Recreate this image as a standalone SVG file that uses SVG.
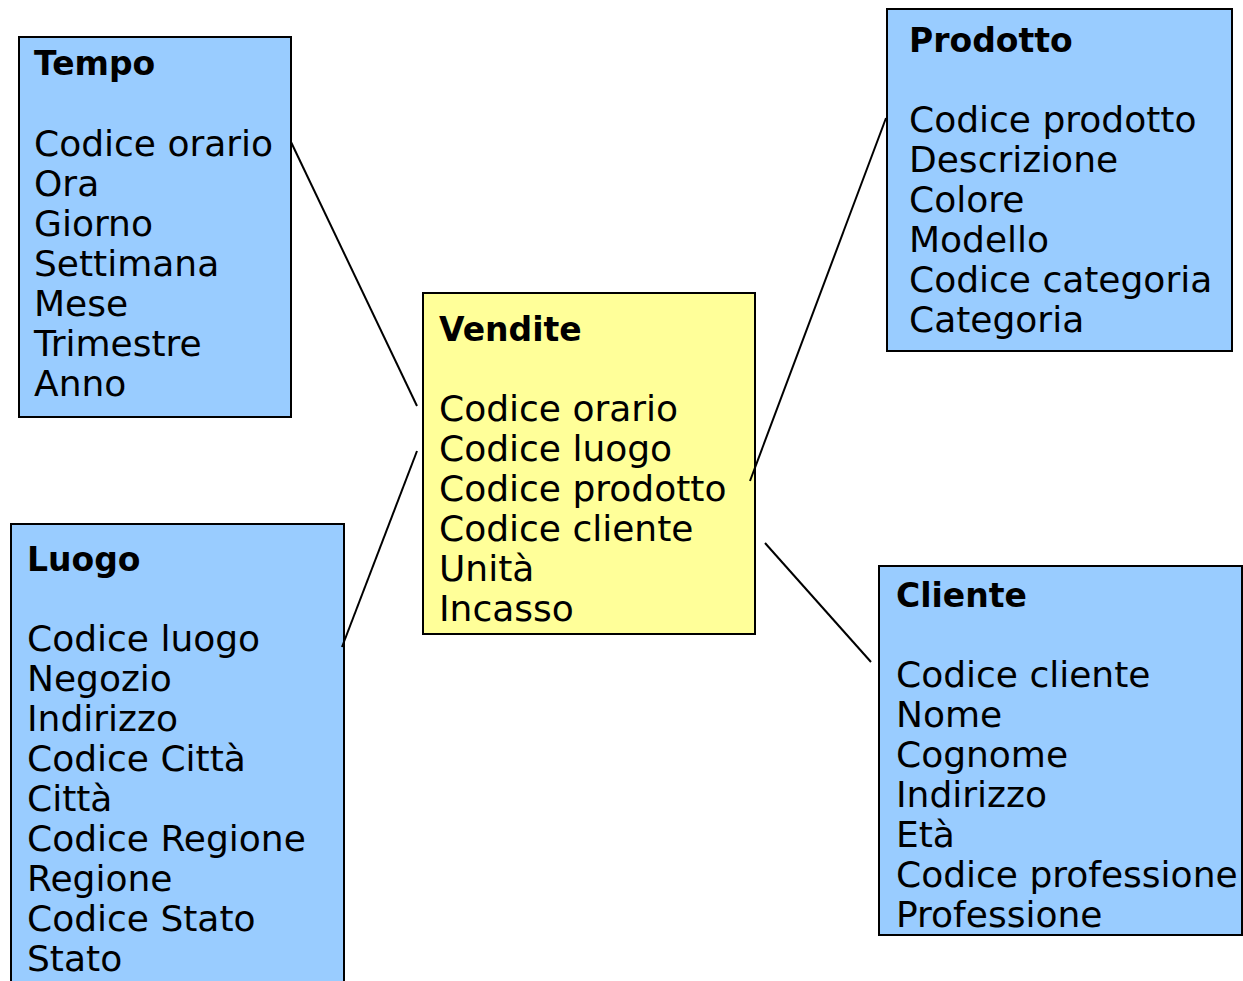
<svg xmlns="http://www.w3.org/2000/svg" width="1243" height="981" viewBox="0 0 1243 981">
<style>
.box{stroke:#000;stroke-width:2}
.dim{fill:#99ccff}
.fact{fill:#ffff99}
text{font-family:"DejaVu Sans","Liberation Sans",sans-serif;font-size:36px;fill:#000}
.t{font-weight:bold;font-size:33px}
.c{stroke:#000;stroke-width:2;fill:none}
</style>
<rect width="1243" height="981" fill="#fff"/>
<g id="tempo">
<rect class="box dim" x="19" y="37" width="272" height="380"/>
<text class="t" x="34" y="75">Tempo</text>
<text x="34" y="156">Codice orario</text>
<text x="34" y="196">Ora</text>
<text x="34" y="236">Giorno</text>
<text x="34" y="276">Settimana</text>
<text x="34" y="316">Mese</text>
<text x="34" y="356">Trimestre</text>
<text x="34" y="396">Anno</text>
</g>
<g id="vendite">
<rect class="box fact" x="423" y="293" width="332" height="341"/>
<text class="t" x="439" y="341">Vendite</text>
<text x="439" y="421">Codice orario</text>
<text x="439" y="461">Codice luogo</text>
<text x="439" y="501">Codice prodotto</text>
<text x="439" y="541">Codice cliente</text>
<text x="439" y="581">Unità</text>
<text x="439" y="621">Incasso</text>
</g>
<g id="luogo">
<rect class="box dim" x="11" y="524" width="333" height="470"/>
<text class="t" x="27" y="571">Luogo</text>
<text x="27" y="651">Codice luogo</text>
<text x="27" y="691">Negozio</text>
<text x="27" y="731">Indirizzo</text>
<text x="27" y="771">Codice Città</text>
<text x="27" y="811">Città</text>
<text x="27" y="851">Codice Regione</text>
<text x="27" y="891">Regione</text>
<text x="27" y="931">Codice Stato</text>
<text x="27" y="971">Stato</text>
</g>
<g id="prodotto">
<rect class="box dim" x="887" y="9" width="345" height="342"/>
<text class="t" x="909" y="52">Prodotto</text>
<text x="909" y="132">Codice prodotto</text>
<text x="909" y="172">Descrizione</text>
<text x="909" y="212">Colore</text>
<text x="909" y="252">Modello</text>
<text x="909" y="292">Codice categoria</text>
<text x="909" y="332">Categoria</text>
</g>
<g id="cliente">
<rect class="box dim" x="879" y="566" width="363" height="369"/>
<text class="t" x="896" y="607">Cliente</text>
<text x="896" y="687">Codice cliente</text>
<text x="896" y="727">Nome</text>
<text x="896" y="767">Cognome</text>
<text x="896" y="807">Indirizzo</text>
<text x="896" y="847">Età</text>
<text x="896" y="887">Codice professione</text>
<text x="896" y="927">Professione</text>
</g>
<g id="connectors">
<line class="c" x1="291" y1="142" x2="417" y2="406"/>
<line class="c" x1="342" y1="647" x2="417" y2="451"/>
<line class="c" x1="750" y1="481" x2="886" y2="118"/>
<line class="c" x1="765" y1="543" x2="871" y2="662"/>
</g>
</svg>
